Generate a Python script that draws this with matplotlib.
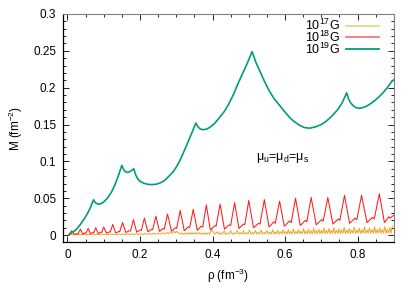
import numpy as np
import matplotlib
matplotlib.use("Agg")
import matplotlib.pyplot as plt
from matplotlib.ticker import MultipleLocator, FormatStrFormatter

plt.rcParams['font.family'] = ['Liberation Sans', 'DejaVu Sans']
plt.rcParams['mathtext.default'] = 'regular'

# 10^19 G curve
green_x = [0.005, 0.015, 0.025, 0.035, 0.045, 0.055, 0.063, 0.072, 0.076, 0.080, 0.086, 0.092,
           0.100, 0.110, 0.121, 0.130, 0.140, 0.150, 0.155, 0.160, 0.165, 0.172, 0.178, 0.183,
           0.188, 0.193, 0.200, 0.210, 0.220, 0.231, 0.245, 0.259, 0.270, 0.280, 0.290, 0.300,
           0.310, 0.320, 0.333, 0.345, 0.354, 0.360, 0.366, 0.374, 0.385, 0.395, 0.405, 0.415,
           0.425, 0.433, 0.445, 0.458, 0.469, 0.480, 0.495, 0.509, 0.520, 0.532, 0.543, 0.556,
           0.570, 0.585, 0.598, 0.612, 0.625, 0.640, 0.653, 0.668, 0.685, 0.700, 0.715, 0.730,
           0.745, 0.758, 0.770, 0.775, 0.780, 0.787, 0.795, 0.805, 0.815, 0.825, 0.835, 0.846,
           0.858, 0.870, 0.882, 0.892, 0.900]
green_y = [0.001, 0.004, 0.008, 0.014, 0.021, 0.029, 0.037, 0.048, 0.0445, 0.043, 0.042, 0.0425,
           0.045, 0.050, 0.058, 0.067, 0.080, 0.0946, 0.089, 0.086, 0.085, 0.086, 0.088, 0.090,
           0.082, 0.077, 0.073, 0.0705, 0.069, 0.0685, 0.069, 0.0715, 0.075, 0.080, 0.085, 0.092,
           0.101, 0.112, 0.127, 0.141, 0.152, 0.147, 0.144, 0.143, 0.144, 0.147, 0.151, 0.157,
           0.163, 0.168, 0.178, 0.191, 0.204, 0.216, 0.232, 0.249, 0.234, 0.221, 0.209, 0.196,
           0.185, 0.176, 0.168, 0.160, 0.154, 0.149, 0.146, 0.145, 0.147, 0.150, 0.155, 0.162,
           0.170, 0.180, 0.193, 0.185, 0.180, 0.176, 0.173, 0.172, 0.173, 0.175, 0.178, 0.182,
           0.187, 0.193, 0.200, 0.207, 0.211]

# 10^18 G curve: peaks, troughs, small bumps and dips
red_peak_x = [0.012, 0.036, 0.057, 0.078, 0.100, 0.125, 0.152, 0.182, 0.212, 0.244, 0.276, 0.311,
              0.347, 0.383, 0.421, 0.461, 0.500, 0.543, 0.585, 0.629, 0.672, 0.718, 0.764, 0.811, 0.860]
red_peak_y = [0.006, 0.008, 0.009, 0.010, 0.011, 0.0145, 0.017, 0.021, 0.023, 0.0255, 0.0285, 0.0335,
              0.035, 0.041, 0.042, 0.044, 0.047, 0.048, 0.046, 0.050, 0.051, 0.051, 0.054, 0.054, 0.056]
red_trough_x = [0.004, 0.019, 0.042, 0.063, 0.085, 0.108, 0.133, 0.161, 0.191, 0.222, 0.254, 0.287, 0.322,
                0.358, 0.394, 0.433, 0.473, 0.513, 0.556, 0.598, 0.642, 0.686, 0.732, 0.778, 0.826, 0.874]
red_trough_y = [0.001, 0.001, 0.0015, 0.002, 0.002, 0.0025, 0.003, 0.0035, 0.004, 0.0045, 0.005, 0.0055, 0.006,
                0.0065, 0.007, 0.008, 0.009, 0.010, 0.011, 0.012, 0.013, 0.014, 0.015, 0.016, 0.017, 0.017]
red_bump_x = [0.027, 0.049, 0.070, 0.092, 0.116, 0.142, 0.171, 0.201, 0.232, 0.264, 0.298, 0.333,
              0.369, 0.407, 0.446, 0.485, 0.527, 0.569, 0.612, 0.656, 0.701, 0.747, 0.793, 0.841, 0.886]
red_bump_y = [0.002, 0.003, 0.0035, 0.004, 0.0045, 0.005, 0.006, 0.007, 0.008, 0.009, 0.010, 0.011,
              0.012, 0.013, 0.014, 0.015, 0.016, 0.018, 0.019, 0.020, 0.021, 0.022, 0.023, 0.024, 0.025]
red_dip_x = [0.029, 0.051, 0.072, 0.094, 0.118, 0.144, 0.174, 0.204, 0.235, 0.267, 0.301, 0.337,
             0.373, 0.410, 0.450, 0.489, 0.531, 0.573, 0.617, 0.660, 0.705, 0.751, 0.798, 0.846, 0.890, 0.900]
red_dip_y = [0.0015, 0.0025, 0.003, 0.0035, 0.004, 0.0045, 0.0055, 0.0065, 0.0075, 0.008, 0.009, 0.010,
             0.011, 0.012, 0.013, 0.014, 0.015, 0.016, 0.017, 0.018, 0.019, 0.020, 0.021, 0.022, 0.023, 0.027]

# 10^17 G curve: peaks and troughs
yel_peak_x = [0.010, 0.022, 0.034, 0.046, 0.058, 0.070, 0.082, 0.094, 0.106, 0.118, 0.130, 0.142,
              0.154, 0.166, 0.178, 0.190, 0.202, 0.214, 0.226, 0.238,
              0.250, 0.262, 0.274, 0.284, 0.294, 0.302,
              0.316, 0.324, 0.332, 0.340, 0.348, 0.356, 0.364, 0.372, 0.380, 0.388, 0.398,
              0.414, 0.423, 0.432, 0.441, 0.450, 0.459, 0.468, 0.476, 0.485, 0.493,
              0.502, 0.510, 0.518, 0.526, 0.534, 0.542, 0.550, 0.558, 0.566, 0.573,
              0.580, 0.588, 0.595, 0.602, 0.609, 0.616, 0.623, 0.630, 0.637, 0.644,
              0.651, 0.658, 0.665, 0.672, 0.679, 0.686, 0.693, 0.700, 0.707, 0.714,
              0.721, 0.728, 0.735, 0.742, 0.749, 0.756, 0.763, 0.770, 0.777, 0.784,
              0.791, 0.798, 0.805, 0.812, 0.819, 0.826, 0.833, 0.840, 0.847, 0.854,
              0.861, 0.868, 0.875, 0.882, 0.889, 0.896]
yel_peak_y = [0.0010, 0.0012, 0.0010, 0.0014, 0.0012, 0.0015, 0.0013, 0.0016, 0.0014, 0.0017, 0.0015, 0.0018,
              0.0016, 0.0019, 0.0017, 0.0020, 0.0018, 0.0022, 0.0020, 0.0025,
              0.0025, 0.0030, 0.0035, 0.0045, 0.0055, 0.0050,
              0.0028, 0.0030, 0.0032, 0.0033, 0.0034, 0.0034, 0.0033, 0.0032, 0.0030, 0.0032, 0.0070,
              0.0045, 0.0030, 0.0055, 0.0030, 0.0060, 0.0032, 0.0062, 0.0035, 0.0058, 0.0035,
              0.0065, 0.0038, 0.0062, 0.0040, 0.0068, 0.0040, 0.0060, 0.0042, 0.0072, 0.0045,
              0.0065, 0.0045, 0.0075, 0.0048, 0.0070, 0.0050, 0.0082, 0.0050, 0.0072, 0.0055,
              0.0088, 0.0055, 0.0078, 0.0058, 0.0092, 0.0060, 0.0080, 0.0062, 0.0095, 0.0062,
              0.0085, 0.0065, 0.0100, 0.0065, 0.0088, 0.0068, 0.0105, 0.0068, 0.0090, 0.0070,
              0.0108, 0.0070, 0.0092, 0.0072, 0.0110, 0.0072, 0.0095, 0.0075, 0.0112, 0.0075,
              0.0098, 0.0078, 0.0115, 0.0078, 0.0100, 0.0120]
yel_trough_x = [0.004, 0.016, 0.028, 0.040, 0.052, 0.064, 0.076, 0.088, 0.100, 0.112, 0.124, 0.136,
                0.148, 0.160, 0.172, 0.184, 0.196, 0.208, 0.220, 0.232, 0.244,
                0.256, 0.268, 0.279, 0.289, 0.298, 0.310,
                0.320, 0.328, 0.336, 0.344, 0.352, 0.360, 0.368, 0.376, 0.384, 0.392, 0.406,
                0.4185, 0.4275, 0.4365, 0.4455, 0.4545, 0.4635, 0.472, 0.4805, 0.489, 0.4975,
                0.506, 0.514, 0.522, 0.530, 0.538, 0.546, 0.554, 0.562, 0.5695, 0.5765,
                0.584, 0.5915, 0.5985, 0.6055, 0.6125, 0.6195, 0.6265, 0.6335, 0.6405, 0.6475,
                0.6545, 0.6615, 0.6685, 0.6755, 0.6825, 0.6895, 0.6965, 0.7035, 0.7105, 0.7175,
                0.7245, 0.7315, 0.7385, 0.7455, 0.7525, 0.7595, 0.7665, 0.7735, 0.7805, 0.7875,
                0.7945, 0.8015, 0.8085, 0.8155, 0.8225, 0.8295, 0.8365, 0.8435, 0.8505, 0.8575,
                0.8645, 0.8715, 0.8785, 0.8855, 0.8925]
yel_trough_y = [0.0002, 0.0003, 0.0003, 0.0003, 0.0004, 0.0004, 0.0004, 0.0005, 0.0005, 0.0005, 0.0006, 0.0006,
                0.0006, 0.0007, 0.0007, 0.0007, 0.0008, 0.0008, 0.0008, 0.0009, 0.0010,
                0.0012, 0.0015, 0.0018, 0.0022, 0.0030, 0.0015,
                0.0010, 0.0010, 0.0011, 0.0012, 0.0012, 0.0012, 0.0012, 0.0011, 0.0010, 0.0012, 0.0012,
                0.0010, 0.0012, 0.0010, 0.0013, 0.0011, 0.0013, 0.0011, 0.0014, 0.0012, 0.0014,
                0.0012, 0.0015, 0.0013, 0.0015, 0.0013, 0.0016, 0.0014, 0.0016, 0.0014, 0.0017,
                0.0015, 0.0017, 0.0015, 0.0018, 0.0016, 0.0018, 0.0016, 0.0019, 0.0017, 0.0019,
                0.0017, 0.0020, 0.0018, 0.0020, 0.0018, 0.0021, 0.0019, 0.0021, 0.0019, 0.0022,
                0.0020, 0.0022, 0.0020, 0.0023, 0.0021, 0.0023, 0.0021, 0.0024, 0.0022, 0.0024,
                0.0022, 0.0025, 0.0023, 0.0025, 0.0023, 0.0026, 0.0024, 0.0026, 0.0024, 0.0027,
                0.0025, 0.0027, 0.0025, 0.0028, 0.0026]


def merge(*pairs):
    xs = np.concatenate([np.asarray(p[0]) for p in pairs])
    ys = np.concatenate([np.asarray(p[1]) for p in pairs])
    order = np.argsort(xs, kind='stable')
    return xs[order], ys[order]


red_x, red_y = merge((red_peak_x, red_peak_y), (red_trough_x, red_trough_y),
                     (red_bump_x, red_bump_y), (red_dip_x, red_dip_y))
yel_x, yel_y = merge((yel_peak_x, yel_peak_y), (yel_trough_x, yel_trough_y))

fig = plt.figure(figsize=(4.15, 2.91), dpi=100)
ax = fig.add_axes([0.152, 0.168, 0.797, 0.784])

ax.plot(yel_x, yel_y, color='#eaa520', lw=0.7, label='10$^{17}$G')
ax.plot(red_x, red_y, color='#ff1a1a', lw=0.75, label='10$^{18}$G')
ax.plot(green_x, green_y, color='#009e73', lw=1.2, label='10$^{19}$G')

ax.set_xlim(-0.012, 0.9)
ax.set_ylim(-0.0095, 0.3)
ax.xaxis.set_major_locator(MultipleLocator(0.2))
ax.xaxis.set_minor_locator(MultipleLocator(0.05))
ax.yaxis.set_major_locator(MultipleLocator(0.05))
ax.yaxis.set_minor_locator(MultipleLocator(0.01))
ax.xaxis.set_major_formatter(FormatStrFormatter('%g'))
ax.yaxis.set_major_formatter(FormatStrFormatter('%g'))
ax.tick_params(which='both', direction='in', top=True, right=True, labelsize=8.5, width=0.6)
ax.tick_params(which='major', length=4, pad=5)
ax.tick_params(which='minor', length=2)

for side in ['top', 'right']:
    ax.spines[side].set_color('#808080')
    ax.spines[side].set_linewidth(0.8)
for side in ['left', 'bottom']:
    ax.spines[side].set_linewidth(0.9)

ax.set_xlabel('ρ (fm$^{-3}$)', fontsize=8.5, labelpad=4)
ax.set_ylabel('M (fm$^{-2}$)', fontsize=8.5, labelpad=6)

ax.text(0.593, 0.105, r'$\mu_u$=$\mu_d$=$\mu_s$', fontsize=9, ha='center', va='center')

leg = ax.legend(loc='upper right', bbox_to_anchor=(0.965, 1.0), frameon=False, fontsize=9,
                markerfirst=False, handlelength=2.6, handletextpad=0.5, labelspacing=-0.27,
                borderaxespad=0.1, borderpad=0.2)
leg_colors = ['#f5d08a', '#f47a7a', '#009e73']
for handle, col in zip(leg.get_lines(), leg_colors):
    handle.set_color(col)
    handle.set_linewidth(1.3)

fig.savefig('out.png', dpi=100)
